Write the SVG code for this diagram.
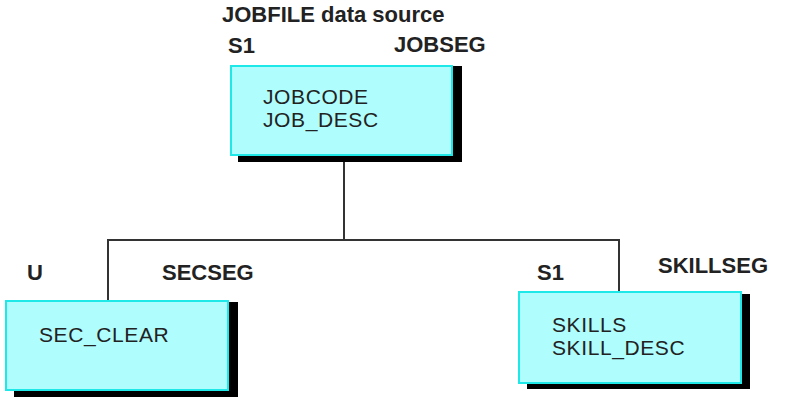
<svg xmlns="http://www.w3.org/2000/svg" width="809" height="397" viewBox="0 0 809 397">
<style>
.shadow{fill:#000}
.box{fill:#b0fdfd;stroke:#1ee8e8;stroke-width:2}
.t{font-family:"Liberation Sans",Arial,sans-serif;font-size:21px;letter-spacing:0.6px;fill:#222}
.b{font-weight:bold;font-size:22px;letter-spacing:0}
.conn{fill:none;stroke:#333;stroke-width:2}
</style>
<rect width="809" height="397" fill="#fff"/>
<text class="t b" x="222" y="22">JOBFILE data source</text>
<g id="connectors">
<path class="conn" d="M344 162 V240"/>
<path class="conn" d="M108 301 V240 H619 V292"/>
</g>
<g id="JOBSEG">
<rect class="shadow" x="238" y="66" width="224" height="96"/>
<rect class="box" x="231" y="66" width="221" height="89"/>
<text class="t b" x="228" y="53">S1</text>
<text class="t b" x="394" y="52">JOBSEG</text>
<text class="t" x="263" y="104">JOBCODE</text>
<text class="t" x="263" y="127">JOB_DESC</text>
</g>
<g id="SECSEG">
<rect class="shadow" x="14" y="302" width="224" height="95"/>
<rect class="box" x="6" y="301" width="222" height="89"/>
<text class="t b" x="27" y="280">U</text>
<text class="t b" x="162" y="280">SECSEG</text>
<text class="t" x="39" y="342">SEC_CLEAR</text>
</g>
<g id="SKILLSEG">
<rect class="shadow" x="527" y="294" width="223" height="95"/>
<rect class="box" x="519" y="292" width="222" height="91"/>
<text class="t b" x="537" y="280">S1</text>
<text class="t b" x="658" y="273">SKILLSEG</text>
<text class="t" x="552" y="332">SKILLS</text>
<text class="t" x="552" y="355">SKILL_DESC</text>
</g>
</svg>
